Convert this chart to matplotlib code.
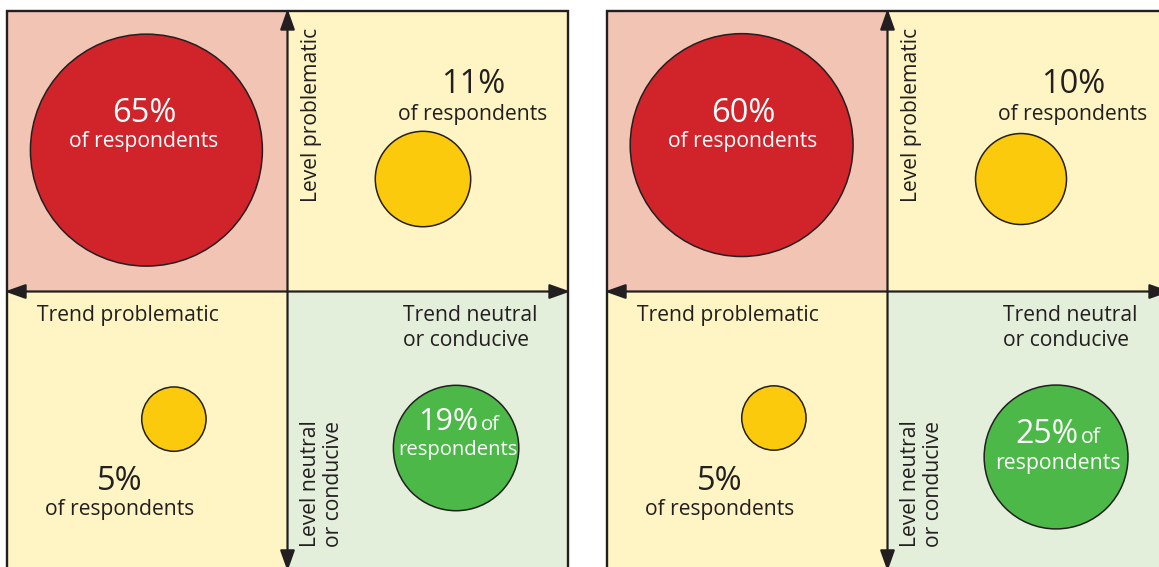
import matplotlib
matplotlib.use("Agg")
import matplotlib.pyplot as plt
from matplotlib.patches import Rectangle, Circle, FancyArrowPatch
import numpy as np

# ---------------- data ----------------
quadrants = ["Level & trend problematic", "Level problematic, trend neutral",
             "Trend problematic, level neutral", "Level & trend neutral or conducive"]
shares_panel1 = [65, 11, 5, 19]   # % of respondents
shares_panel2 = [60, 10, 5, 25]
trend_labels = ["Trend problematic", "Trend neutral\nor conducive"]
level_labels = ["Level problematic", "Level neutral\nor conducive"]
unit_text = "of respondents"

# ---------------- style ----------------
FONT = "Open Sans"
plt.rcParams["font.family"] = [FONT, "DejaVu Sans"]
INK = "#231F20"
BG = ["#F2C4B3", "#FFF4C3", "#FFF4C3", "#E3EFDB"]
FILL = ["#D1232A", "#FCCA0C", "#FCCA0C", "#4CB848"]

W, H, DPI = 1159, 567, 100
fig = plt.figure(figsize=(W / DPI, H / DPI), dpi=DPI)
fig.patch.set_facecolor("white")

PANEL = 561  # px
R_SCALE = 0.4135 / np.sqrt(65)  # radius (axis units) per sqrt(%)

# circle centres per panel (axis units, panel centre = 0,0)
centres = {
    0: [(-0.503, 0.504), (0.483, 0.401), (-0.405, -0.455), (0.601, -0.558)],
    1: [(-0.520, 0.522), (0.476, 0.401), (-0.405, -0.451), (0.601, -0.590)],
}
green_label = {
    0: dict(y1=-0.494, y2=-0.583, fs_big=22, fs_small=14.6),
    1: dict(y1=-0.540, y2=-0.633, fs_big=23, fs_small=15.3),
}
red_label_x = {0: -0.512, 1: -0.515}


def make_panel(idx, left_px, shares):
    ax = fig.add_axes([left_px / W, (H - 11 - PANEL) / H, PANEL / W, PANEL / H])
    ax.set_xlim(-1, 1)
    ax.set_ylim(-1, 1)
    ax.axis("off")
    # quadrant backgrounds
    corners = [(-1, 0), (0, 0), (-1, -1), (0, -1)]
    for (x0, y0), c in zip(corners, BG):
        ax.add_patch(Rectangle((x0, y0), 1, 1, facecolor=c, edgecolor="none",
                               zorder=0, clip_on=False))
    # outer border
    ax.add_patch(Rectangle((-1, -1), 2, 2, facecolor="none", edgecolor=INK,
                           linewidth=1.7, zorder=3, clip_on=False))
    # axes arrows
    style = "<|-|>,head_length=0.45,head_width=0.16"
    ax.add_patch(FancyArrowPatch((-1.008, 0), (1.008, 0), arrowstyle=style,
                                 mutation_scale=28, color=INK, lw=1.6,
                                 shrinkA=0, shrinkB=0, zorder=4, clip_on=False))
    ax.add_patch(FancyArrowPatch((0, 1.008), (0, -0.997), arrowstyle=style,
                                 mutation_scale=28, color=INK, lw=1.6,
                                 shrinkA=0, shrinkB=0, zorder=4, clip_on=False))
    # circles
    for (cx, cy), s, fc in zip(centres[idx], shares, FILL):
        ax.add_patch(Circle((cx, cy), R_SCALE * np.sqrt(s), facecolor=fc,
                            edgecolor=INK, linewidth=1.1, zorder=2))
    # axis labels
    fs = 15.2
    ax.text(-0.893, -0.105, trend_labels[0], fontsize=fs, color=INK,
            ha="left", va="baseline", zorder=5)
    for i, line in enumerate(trend_labels[1].split("\n")):
        ax.text(0.412, -0.105 - 0.089 * i, line, fontsize=fs, color=INK,
                ha="left", va="baseline", zorder=5)
    ax.text(0.048, 0.319, level_labels[0], fontsize=fs, color=INK, rotation=90,
            rotation_mode="anchor", ha="left", va="top", zorder=5)
    ax.text(0.0446, -0.911, level_labels[1], fontsize=fs, color=INK, rotation=90,
            rotation_mode="anchor", ha="left", va="top", linespacing=1.15, zorder=5)
    # share labels
    big = 23.5
    # red
    ax.text(red_label_x[idx], 0.604, f"{shares[0]}%", fontsize=big, color="white",
            ha="center", va="baseline", zorder=5)
    ax.text(red_label_x[idx], 0.515, unit_text, fontsize=fs, color="white",
            ha="center", va="baseline", zorder=5)
    # top-right yellow
    ax.text(0.661, 0.708, f"{shares[1]}%", fontsize=big, color=INK,
            ha="center", va="baseline", zorder=5)
    ax.text(0.661, 0.611, unit_text, fontsize=fs, color=INK,
            ha="center", va="baseline", zorder=5)
    # bottom-left yellow
    ax.text(-0.597, -0.708, f"{shares[2]}%", fontsize=big, color=INK,
            ha="center", va="baseline", zorder=5)
    ax.text(-0.600, -0.797, unit_text, fontsize=fs, color=INK,
            ha="center", va="baseline", zorder=5)
    # green
    g = green_label[idx]
    ax.text(0.680, g["y1"], f"{shares[3]}%", fontsize=g["fs_big"], color="white",
            ha="right", va="baseline", zorder=5)
    ax.text(0.690, g["y1"], "of", fontsize=g["fs_small"], color="white",
            ha="left", va="baseline", zorder=5)
    ax.text(0.607, g["y2"], unit_text.split(" ", 1)[1], fontsize=g["fs_small"],
            color="white", ha="center", va="baseline", zorder=5)
    return ax


make_panel(0, 7, shares_panel1)
make_panel(1, 607, shares_panel2)

fig.savefig("out.png", dpi=DPI, facecolor="white")
